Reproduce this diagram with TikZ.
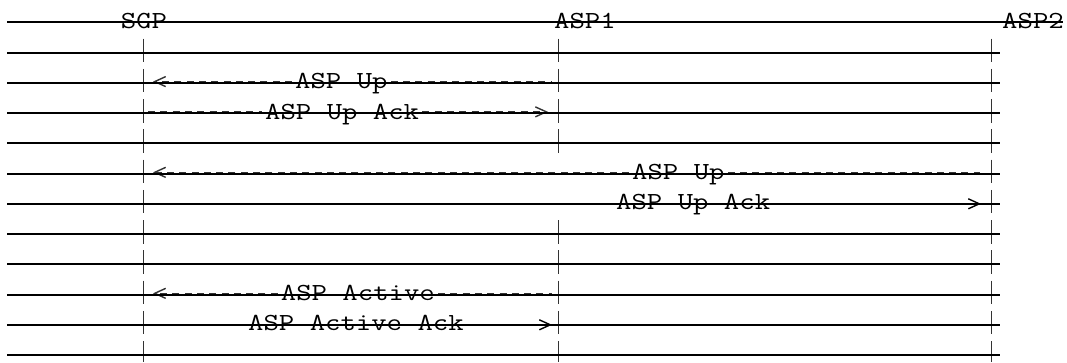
\documentclass[tikz,border=0pt]{standalone}
\usepackage{graphicx}
\usetikzlibrary{arrows.meta,positioning}
\newcommand{\tline}[1]{\scalebox{1.22}[1]{\fontsize{24.5}{24.5}\selectfont\ttfamily #1}}

\begin{document}
\begin{tikzpicture}[x=1pt,y=-1pt,>={Straight Barb[length=11pt,width=10pt,line width=1.4pt]},
    lbl/.style={anchor=base west,inner sep=0pt},
    msg/.style={line width=1.4pt,black!80,dash pattern=on 7pt off 5.3pt},
    hid/.style={line width=1pt},
    life/.style={line width=1.4pt,black!80,dash pattern=on 23.5pt off 6.75pt},
    strike/.style={line width=2pt}]
  \useasboundingbox (0,0) rectangle (1067,362);
  % ---------- headers ----------
  \node[lbl] (sgp) at (120.7,28.3) {\tline{SGP}};
  \node[lbl] (asp1) at (554,28.3) {\tline{ASP1}};
  \node[lbl] (asp2) at (1002,28.3) {\tline{ASP2}};
  % ---------- lifelines ----------
  \coordinate (sgpT) at (143.3,38.5);  \coordinate (sgpB) at (143.3,362);
  \coordinate (aoneT) at (558.5,38.5); \coordinate (aoneM) at (558.5,154);
  \coordinate (aoneN) at (558.5,220);  \coordinate (aoneB) at (558.5,362);
  \coordinate (atwoT) at (991.5,38.5); \coordinate (atwoB) at (991.5,362);
  \draw[life] (sgpT) -- (sgpB);
  \draw[life] (aoneT) -- (aoneM);
  \draw[life] (aoneN) -- (aoneB);
  \draw[life] (atwoT) -- (atwoB);
  % ---------- ASP1: ASP Up / ASP Up Ack ----------
  \node[lbl] (upA) at (295,88.8) {\tline{ASP Up}};
  \coordinate (s3) at (153,81.6);  \coordinate (a3) at (552,81.6);
  \draw[msg,->,shorten <=3pt] (upA.west |- s3) -- (s3);
  \draw[msg,shorten <=3pt] (upA.east |- a3) -- (a3);
  \node[lbl] (ackA) at (265,119.05) {\tline{ASP Up Ack}};
  \coordinate (s4) at (148,111.85); \coordinate (a4) at (548,111.85);
  \draw[msg,shorten >=3pt] (s4) -- (ackA.west |- s4);
  \draw[msg,->,shorten <=3pt] (ackA.east |- a4) -- (a4);
  % ---------- ASP2: ASP Up / ASP Up Ack ----------
  \node[lbl] (upB) at (632,179.55) {\tline{ASP Up}};
  \coordinate (s6) at (153,172.35); \coordinate (a6) at (980,172.35);
  \draw[msg,->,shorten <=3pt] (upB.west |- s6) -- (s6);
  \draw[msg,shorten <=3pt] (upB.east |- a6) -- (a6);
  \node[lbl] (ackB) at (616,209.8) {\tline{ASP Up Ack}};
  \coordinate (a7) at (981,203.8);
  \draw[hid,->,shorten <=3pt] (ackB.east |- a7) -- (a7);
  % ---------- ASP1: ASP Active / ASP Active Ack ----------
  \node[lbl] (actA) at (280.7,300.55) {\tline{ASP Active}};
  \coordinate (s10) at (153,293.35); \coordinate (a10) at (552,293.35);
  \draw[msg,->,shorten <=3pt] (actA.west |- s10) -- (s10);
  \draw[msg,shorten <=3pt] (actA.east |- a10) -- (a10);
  \node[lbl] (actackA) at (248,330.8) {\tline{ASP Active Ack}};
  \coordinate (a11) at (552,324.8);
  \draw[hid,->,shorten <=3pt] (actackA.east |- a11) -- (a11);
  % ---------- strike lines ----------
  \draw[strike] (7,22.3) -- (1063,22.3);
  \foreach \r in {52.55,82.8,113.05,143.3,173.55,203.8,234.05,264.3,294.55,324.8,355.05}
    \draw[strike] (7,\r) -- (1000,\r);
\end{tikzpicture}
\end{document}
